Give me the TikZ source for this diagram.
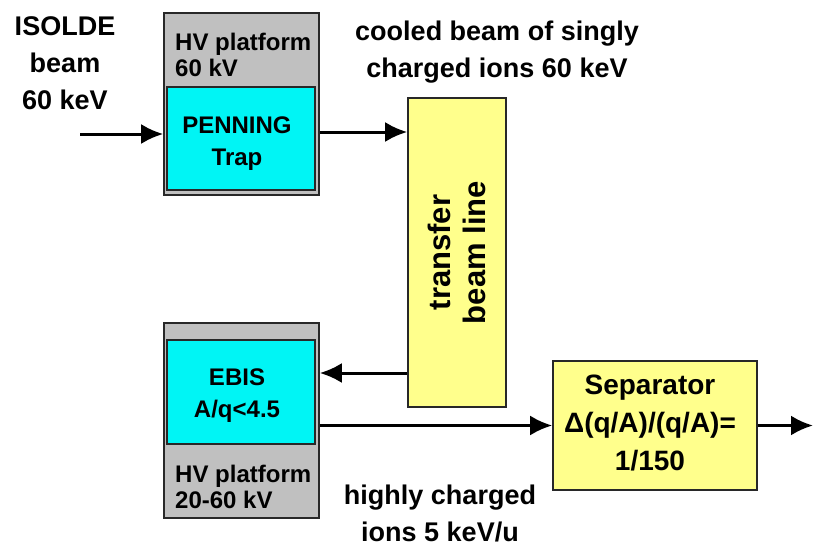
\documentclass[tikz,border=0pt]{standalone}
\usepackage{fontspec}
\setmainfont{Liberation Sans}
\usepackage{tikz}
\usetikzlibrary{arrows.meta,positioning}
\definecolor{plat}{RGB}{192,192,192}
\definecolor{trapc}{RGB}{0,245,245}
\definecolor{sepc}{RGB}{255,255,140}
\definecolor{edge}{RGB}{40,40,40}

\begin{document}
\begin{tikzpicture}[x=1pt,y=-1pt,
    box/.style={draw=edge,line width=1.6pt,inner sep=0pt,align=center,
                font=\bfseries\fontsize{24}{32}\selectfont},
    hvlab/.style={anchor=north west,inner sep=0pt,align=left,
                font=\bfseries\fontsize{24}{26}\selectfont},
    lab/.style={align=center,inner sep=0pt,font=\bfseries\fontsize{27}{37}\selectfont},
    beam/.style={line width=3pt,-{Latex[length=22pt,width=20pt]}}]
  \useasboundingbox (0,0) rectangle (825,552);
  % platforms and traps
  \node[box,fill=plat,minimum width=155pt,minimum height=182pt] (hvtop) at (241.5,104) {};
  \node[box,fill=trapc,minimum width=148pt,minimum height=103pt] (penning) at (241,138.5) {};
  \node[box,draw=none] (penninglab) at (237,144) {PENNING\\Trap};
  \node[hvlab] (hvtoplab) at (175,33) {HV platform\\60 kV};
  \node[box,fill=plat,minimum width=155pt,minimum height=195pt] (hvbot) at (241.5,420.5) {};
  \node[box,fill=trapc,minimum width=148pt,minimum height=104pt] (ebis) at (241,392) {};
  \node[box,draw=none] (ebislab) at (237,396) {EBIS\\A/q<4.5};
  \node[hvlab] (hvbotlab) at (175,465) {HV platform\\20-60 kV};
  % beam line and separator
  \node[box,fill=sepc,rotate=90,minimum width=309pt,minimum height=98pt,
        font=\bfseries\fontsize{31}{35}\selectfont] (transfer) at (457,252.5) {transfer\\beam line};
  \node[box,fill=sepc,minimum width=204pt,minimum height=129pt,
        font=\bfseries\fontsize{28}{38}\selectfont] (sep) at (655,425.5) {};
  \node[box,draw=none,font=\bfseries\fontsize{28}{38}\selectfont] (seplab) at (650,423) {Separator\\Δ(q/A)/(q/A)=\\1/150};
  % labels
  \node[lab] (isolde) at (65,63) {ISOLDE\\beam\\60 keV};
  \node[lab] (cooled) at (497,52) {cooled beam of singly\\charged ions 60 keV};
  \node[lab] (highly) at (440,513) {highly charged\\ions 5 keV/u};
  % beams
  \coordinate (isoin) at (80,134);
  \coordinate (tr1) at (0,132);
  \coordinate (tr2) at (0,373);
  \coordinate (out) at (813,425.5);
  \draw[beam] (isoin) -- (isoin -| hvtop.west);
  \draw[beam] (tr1 -| hvtop.east) -- (tr1 -| transfer.north);
  \draw[beam] (tr2 -| transfer.north) -- (tr2 -| hvbot.east);
  \draw[beam] (sep.west -| hvbot.east) -- (sep.west);
  \draw[beam] (sep.east) -- (out);
\end{tikzpicture}
\end{document}
